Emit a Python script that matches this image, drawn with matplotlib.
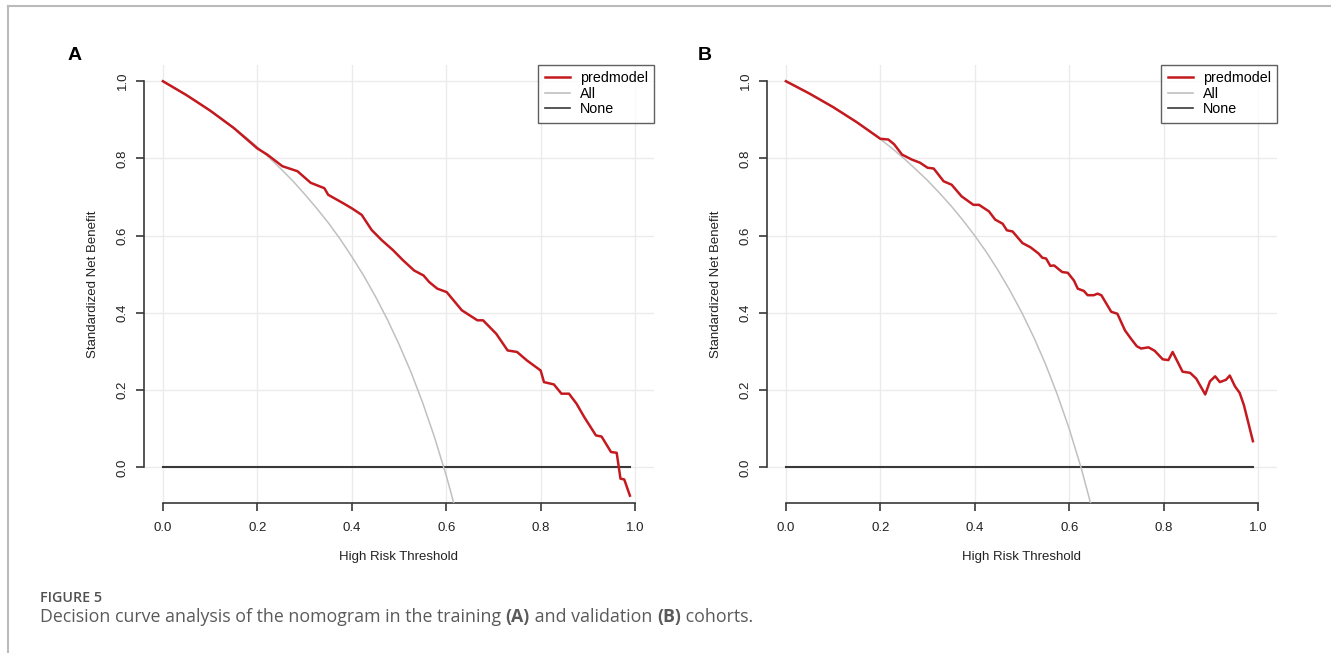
import numpy as np
import matplotlib
matplotlib.use("Agg")
import matplotlib.pyplot as plt
from matplotlib.lines import Line2D

plt.rcParams['font.family'] = ['Liberation Sans', 'DejaVu Sans']

# panel A (training)
thr_a = [0.0, 0.05, 0.10, 0.15, 0.20, 0.221, 0.253, 0.285, 0.313, 0.342, 0.350, 0.382,
         0.400, 0.421, 0.442, 0.463, 0.487, 0.508, 0.532, 0.552, 0.564, 0.581, 0.601,
         0.633, 0.666, 0.678, 0.706, 0.730, 0.750, 0.771, 0.800, 0.807, 0.828, 0.844,
         0.860, 0.876, 0.892, 0.917, 0.929, 0.949, 0.961, 0.969, 0.977, 0.989]
model_a = [1.0, 0.964, 0.924, 0.879, 0.826, 0.810, 0.780, 0.767, 0.737, 0.723, 0.706, 0.684,
           0.671, 0.654, 0.615, 0.589, 0.563, 0.537, 0.510, 0.497, 0.480, 0.463, 0.454,
           0.407, 0.381, 0.381, 0.346, 0.303, 0.299, 0.277, 0.251, 0.221, 0.215, 0.191,
           0.191, 0.165, 0.131, 0.083, 0.080, 0.040, 0.038, -0.029, -0.031, -0.073]
all_thr_a = [0.0, 0.025, 0.05, 0.075, 0.10, 0.125, 0.15, 0.175, 0.20, 0.225, 0.25, 0.275,
             0.30, 0.325, 0.35, 0.375, 0.40, 0.425, 0.45, 0.475, 0.50, 0.525, 0.55,
             0.575, 0.60, 0.61, 0.62]
all_a = [1.0, 0.983, 0.964, 0.945, 0.924, 0.903, 0.880, 0.856, 0.830, 0.802, 0.773, 0.742,
         0.708, 0.672, 0.634, 0.592, 0.546, 0.497, 0.443, 0.384, 0.319, 0.248, 0.168,
         0.079, -0.021, -0.065, -0.111]

# panel B (validation)
thr_b = [0.0, 0.05, 0.100, 0.150, 0.200, 0.217, 0.229, 0.246, 0.267, 0.284, 0.300, 0.313,
         0.334, 0.351, 0.372, 0.397, 0.409, 0.430, 0.443, 0.459, 0.468, 0.480, 0.501,
         0.518, 0.535, 0.543, 0.551, 0.560, 0.568, 0.585, 0.597, 0.610, 0.618, 0.631,
         0.639, 0.652, 0.660, 0.668, 0.689, 0.702, 0.718, 0.731, 0.743, 0.752, 0.768,
         0.781, 0.798, 0.810, 0.819, 0.840, 0.856, 0.869, 0.888, 0.898, 0.909, 0.919,
         0.932, 0.940, 0.951, 0.961, 0.970, 0.978, 0.989]
model_b = [1.0, 0.968, 0.933, 0.894, 0.851, 0.849, 0.837, 0.810, 0.797, 0.789, 0.776, 0.774,
           0.741, 0.732, 0.702, 0.680, 0.680, 0.663, 0.642, 0.631, 0.614, 0.611, 0.581,
           0.570, 0.554, 0.543, 0.541, 0.522, 0.523, 0.506, 0.504, 0.484, 0.463, 0.457,
           0.446, 0.446, 0.450, 0.446, 0.403, 0.398, 0.355, 0.333, 0.314, 0.308, 0.311,
           0.302, 0.280, 0.278, 0.299, 0.248, 0.245, 0.230, 0.189, 0.223, 0.236, 0.221,
           0.227, 0.238, 0.210, 0.193, 0.161, 0.122, 0.068]
all_thr_b = [0.0, 0.025, 0.05, 0.075, 0.10, 0.125, 0.15, 0.175, 0.20, 0.225, 0.25, 0.275,
             0.30, 0.325, 0.35, 0.375, 0.40, 0.425, 0.45, 0.475, 0.50, 0.525, 0.55,
             0.575, 0.60, 0.625, 0.65]
all_b = [1.0, 0.985, 0.968, 0.951, 0.933, 0.914, 0.894, 0.873, 0.850, 0.826, 0.800, 0.772,
         0.743, 0.711, 0.677, 0.640, 0.600, 0.557, 0.509, 0.457, 0.400, 0.337, 0.267,
         0.188, 0.100, 0.0, -0.114]

none_thr = [0.0, 0.99]
none_val = [0.0, 0.0]

ticks = [0.0, 0.2, 0.4, 0.6, 0.8, 1.0]
tick_labels = ["0.0", "0.2", "0.4", "0.6", "0.8", "1.0"]

W, H = 1331, 653
fig = plt.figure(figsize=(W / 100, H / 100), dpi=100)

red = "#c41a1f"
gray = "#c0c0c0"
dark = "#383838"
txt = "#222222"


def panel(left_px, thr, model, all_thr, all_val, letter, letter_x):
    ax = fig.add_axes([left_px / W, 150 / H, 510 / W, 438 / H])
    ax.set_xlim(-0.04, 1.04)
    ax.set_ylim(-0.092, 1.042)
    for t in ticks:
        ax.axvline(t, color="#ebebeb", lw=1, zorder=0)
        ax.axhline(t, color="#ebebeb", lw=1, zorder=0)
    ax.plot(none_thr, none_val, color=dark, lw=1.5, zorder=2)
    ax.plot(all_thr, all_val, color=gray, lw=1.1, zorder=3)
    ax.plot(thr, model, color=red, lw=1.8, zorder=4)
    for s in ["top", "right"]:
        ax.spines[s].set_visible(False)
    ax.spines["left"].set_bounds(0, 1)
    ax.spines["bottom"].set_bounds(0, 1)
    for s in ["left", "bottom"]:
        ax.spines[s].set_color(dark)
        ax.spines[s].set_linewidth(1.2)
    ax.set_xticks(ticks)
    ax.set_xticklabels(tick_labels, fontsize=9.5, color=txt)
    ax.set_yticks(ticks)
    ax.set_yticklabels(tick_labels, fontsize=9.5, color=txt, rotation=90, va="center")
    ax.tick_params(axis="x", length=6, width=1.2, color=dark, pad=8)
    ax.tick_params(axis="y", length=6, width=1.2, color=dark, pad=5)
    ax.set_xlabel("High Risk Threshold", fontsize=9.5, color=txt, labelpad=12)
    ax.set_ylabel("Standardized Net Benefit", fontsize=9.5, color=txt, labelpad=13)
    handles = [Line2D([], [], color=red, lw=1.8),
               Line2D([], [], color=gray, lw=1.2),
               Line2D([], [], color=dark, lw=1.2)]
    leg = ax.legend(handles, ["predmodel", "All", "None"], loc="upper right",
                    bbox_to_anchor=(1.0, 1.0), fontsize=10.3, frameon=True,
                    fancybox=False, borderaxespad=0, handlelength=1.75,
                    labelspacing=0.1, borderpad=0.45, handletextpad=0.7)
    leg.get_frame().set_edgecolor(dark)
    leg.get_frame().set_linewidth(1.0)
    fig.text(letter_x / W, 1 - 55 / H, letter, fontsize=14, fontweight="bold",
             ha="center", va="center")
    return ax


panel(144, thr_a, model_a, all_thr_a, all_a, "A", 75)
panel(767, thr_b, model_b, all_thr_b, all_b, "B", 705)

# outer frame of the figure page
fig.add_artist(Line2D([8 / W, 8 / W], [0, 1 - 6 / H], color="#bbbbbb", lw=1.5))
fig.add_artist(Line2D([8 / W, 1], [1 - 6 / H, 1 - 6 / H], color="#bbbbbb", lw=1.5))

# caption
cap_font = ['Open Sans', 'DejaVu Sans']
fig.text(40 / W, 1 - 598 / H, "FIGURE 5", fontsize=10.3, color="#505050",
         family=cap_font, fontweight="semibold", va="center")
parts = [("Decision curve analysis of the nomogram in the training ", "normal"),
         ("(A)", "bold"), (" and validation ", "normal"), ("(B)", "bold"),
         (" cohorts.", "normal")]
renderer = fig.canvas.get_renderer()
x = 40 / W
for part, wt in parts:
    t = fig.text(x, 1 - 617 / H, part, fontsize=12.8, color="#5a5a5a",
                 family=cap_font, fontweight=wt, va="center")
    bb = t.get_window_extent(renderer=renderer)
    x += bb.width / W

fig.savefig("out.png", dpi=100)
